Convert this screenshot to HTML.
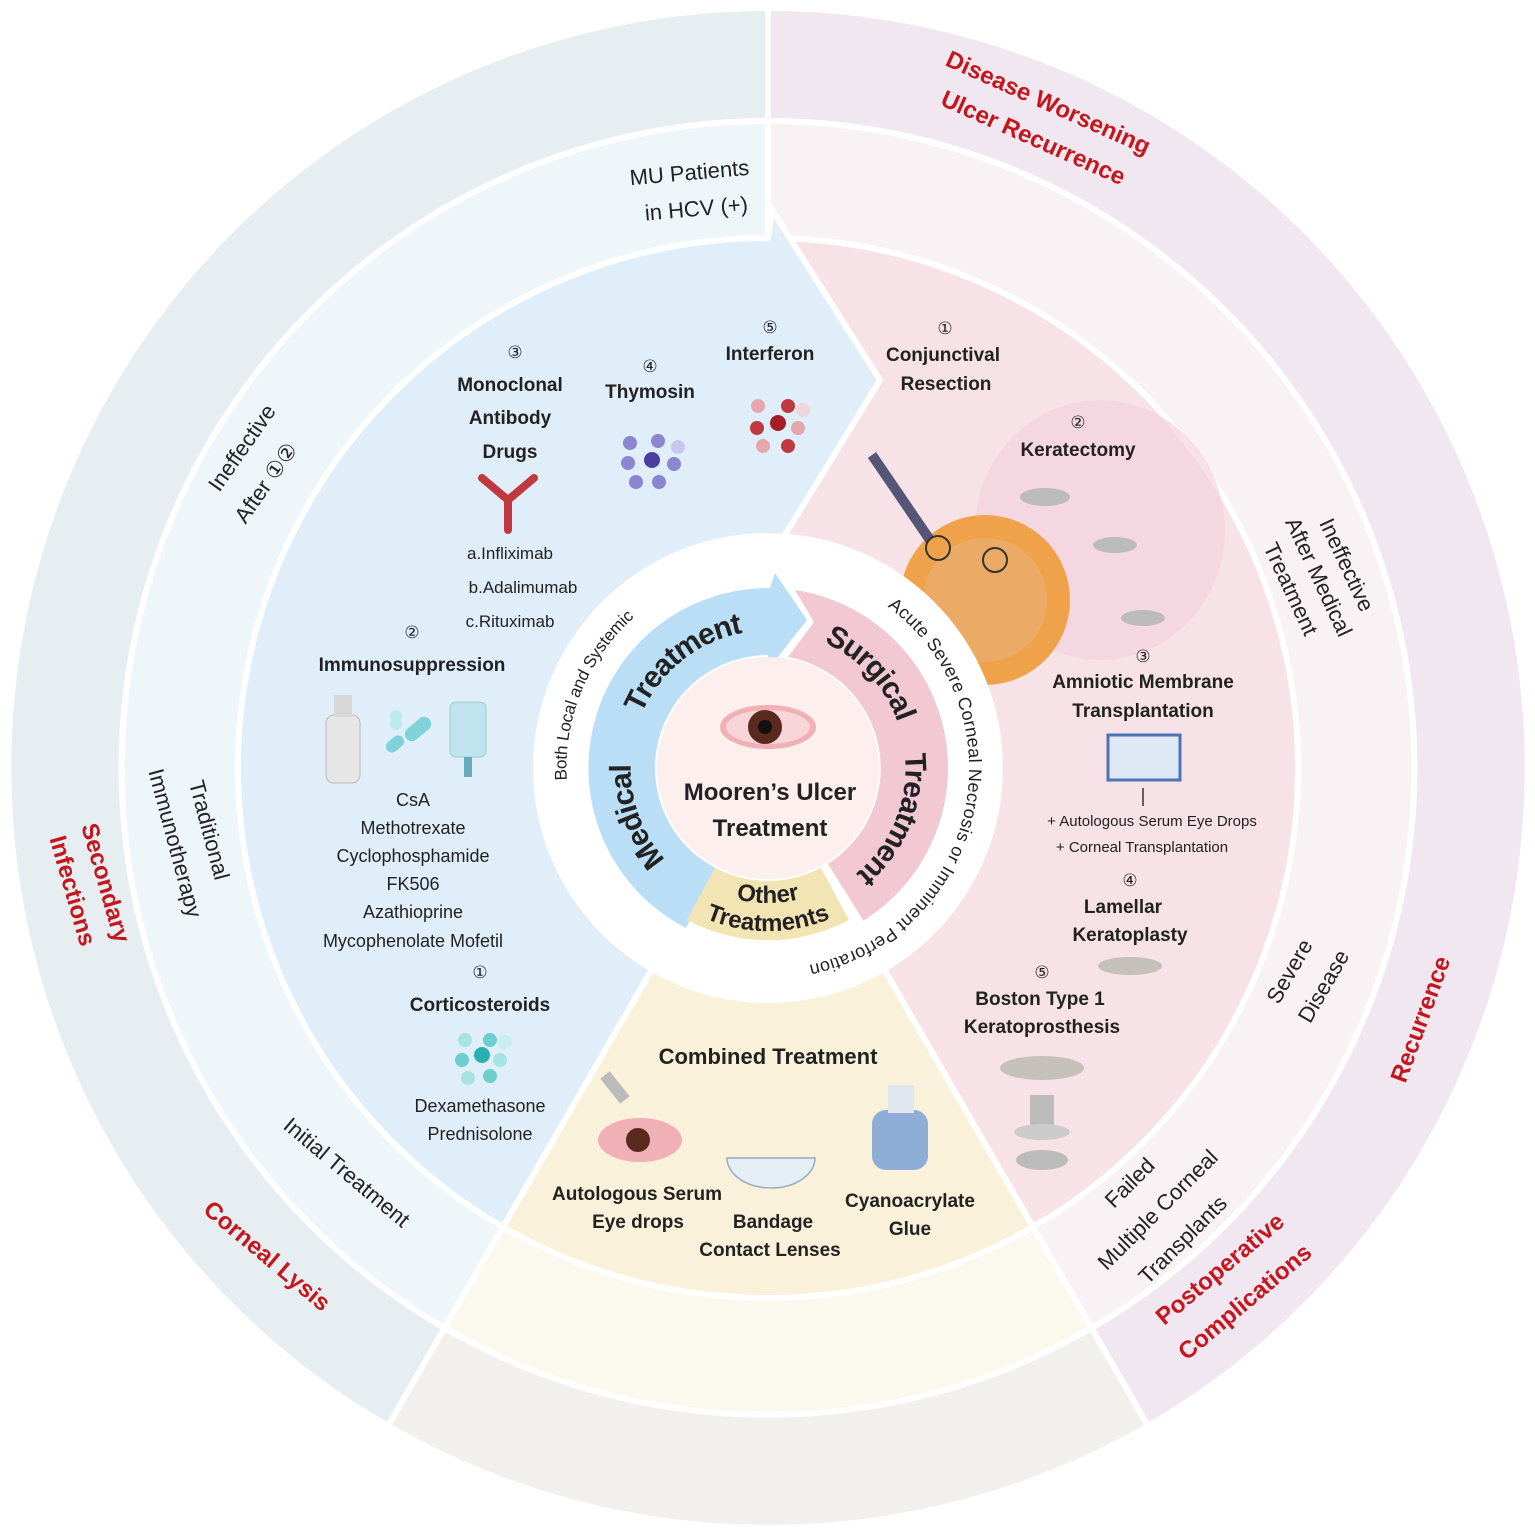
<!DOCTYPE html>
<html><head><meta charset="utf-8"><style>
html,body{margin:0;padding:0;background:#fff}
svg{display:block}
text{font-family:"Liberation Sans",Arial,sans-serif;fill:#222}
.b{font-weight:bold}
.r{fill:#c4161c;font-weight:bold}
</style></head><body>
<svg width="1535" height="1536" viewBox="0 0 1535 1536" xmlns="http://www.w3.org/2000/svg">
<g stroke="#fff" stroke-width="6">
<path d="M768,768 L388,1426 A760 760 0 0 1 768,8 Z" fill="#e6eef1"/>
<path d="M768,768 L768,8 A760 760 0 0 1 1148,1426 Z" fill="#f1e7f1"/>
<path d="M768,768 L1148,1426 A760 760 0 0 1 388,1426 Z" fill="#f1f0ec"/>
<path d="M768,768 L444.5,1328 A647 647 0 0 1 768,121 Z" fill="#eff6fa"/>
<path d="M768,768 L768,121 A647 647 0 0 1 1091.5,1328 Z" fill="#f8f2f5"/>
<path d="M768,768 L1091.5,1328 A647 647 0 0 1 444.5,1328 Z" fill="#fbf8ee"/>
</g>
<g stroke="#fff" stroke-width="6">
<path d="M768,768 L768,238 A530 530 0 0 1 1033,1227 Z" fill="#f6e2e7"/>
<path d="M768,768 L1033,1227 A530 530 0 0 1 503,1227 Z" fill="#f9f1d9"/>
<path d="M768,768 L503,1227 A530 530 0 0 1 768,238 L772,210 L880,380 L785,535 Z" fill="#e0eef9"/>
</g>
<ellipse cx="1100" cy="530" rx="125" ry="130" fill="#f5d3e0" opacity="0.7"/>
<circle cx="985" cy="600" r="85" fill="#f0a24b"/>
<circle cx="985" cy="600" r="62" fill="#e8b07a" opacity="0.6"/>
<path d="M872,455 L930,540" stroke="#557" stroke-width="10"/>
<circle cx="938" cy="548" r="12" fill="none" stroke="#333" stroke-width="2"/>
<circle cx="995" cy="560" r="12" fill="none" stroke="#333" stroke-width="2"/>
<circle cx="768" cy="768" r="235" fill="#fff"/>
<path d="M716.7,868.7 L686,928 A180 180 0 0 1 770,588 L775,573 L807,620 L770,667 L768,655 A113 113 0 0 0 716.7,868.7 Z" fill="#b9def6"/>
<path d="M795,590 A180 180 0 0 1 863.4,920.6 L827.9,863.8 A113 113 0 0 0 788,657 L814,622 Z" fill="#f2c8d3"/>
<path d="M849,920 A172 172 0 0 1 687,920 L715,867.8 A113 113 0 0 0 821,867.8 Z" fill="#f3e4b4"/>
<circle cx="768" cy="768" r="111" fill="#fcefee"/>
<defs>
<path id="pm" d="M683.7,888.4 A147 147 0 0 1 755.2,621.6"/>
<path id="ps" d="M806,626 A147 147 0 0 1 841.5,895.3"/>
<path id="po1" d="M651.1,835.5 A135 135 0 0 0 884.9,835.5"/>
<path id="po2" d="M626.8,849.5 A163 163 0 0 0 909.2,849.5"/>
<path id="pb" d="M609.4,901.1 A207 207 0 0 1 750,561.8"/>
<path id="pa" d="M886.7,598.5 A207 207 0 0 1 732,972"/>
</defs>
<text class="b" font-size="30"><textPath href="#pm" startOffset="25%" text-anchor="middle" dominant-baseline="central">Medical</textPath></text>
<text class="b" font-size="30"><textPath href="#pm" startOffset="76%" text-anchor="middle" dominant-baseline="central">Treatment</textPath></text>
<text class="b" font-size="30"><textPath href="#ps" startOffset="24%" text-anchor="middle" dominant-baseline="central">Surgical</textPath></text>
<text class="b" font-size="30"><textPath href="#ps" startOffset="72%" text-anchor="middle" dominant-baseline="central">Treatment</textPath></text>
<text class="b" font-size="24"><textPath href="#po1" startOffset="50%" text-anchor="middle">Other</textPath></text>
<text class="b" font-size="24"><textPath href="#po2" startOffset="50%" text-anchor="middle">Treatments</textPath></text>
<text font-size="17"><textPath href="#pb" startOffset="50%" text-anchor="middle" dominant-baseline="central">Both Local and Systemic</textPath></text>
<text font-size="18" letter-spacing="0.6"><textPath href="#pa" startOffset="1%" dominant-baseline="central">Acute Severe Corneal Necrosis or Imminent Perforation</textPath></text>
<ellipse cx="768" cy="727" rx="48" ry="22" fill="#f0b0b6"/>
<ellipse cx="768" cy="727" rx="42" ry="17" fill="#f7d5d8"/>
<circle cx="765" cy="727" r="17" fill="#5a2a1e"/>
<circle cx="765" cy="727" r="7" fill="#111"/>
<text class="b" font-size="24" x="770" y="800" text-anchor="middle">Mooren’s Ulcer</text>
<text class="b" font-size="24" x="770" y="836" text-anchor="middle">Treatment</text>
<text class="r" font-size="24" transform="translate(1045,110) rotate(24)" text-anchor="middle">Disease Worsening</text>
<text class="r" font-size="24" transform="translate(1030,145) rotate(24)" text-anchor="middle">Ulcer Recurrence</text>
<text class="r" font-size="24" transform="translate(1428,1022) rotate(-70)" text-anchor="middle">Recurrence</text>
<text class="r" font-size="24" transform="translate(1225,1275) rotate(-40)" text-anchor="middle">Postoperative</text>
<text class="r" font-size="24" transform="translate(1250,1308) rotate(-40)" text-anchor="middle">Complications</text>
<text class="r" font-size="24" transform="translate(262,1262) rotate(40)" text-anchor="middle">Corneal Lysis</text>
<text class="r" font-size="24" transform="translate(98,885) rotate(74)" text-anchor="middle">Secondary</text>
<text class="r" font-size="24" transform="translate(65,893) rotate(74)" text-anchor="middle">Infections</text>
<text font-size="22" transform="translate(690,180) rotate(-5)" text-anchor="middle">MU Patients</text>
<text font-size="22" transform="translate(697,216) rotate(-5)" text-anchor="middle">in HCV (+)</text>
<text font-size="22" transform="translate(248,452) rotate(-55)" text-anchor="middle">Ineffective</text>
<text font-size="22" transform="translate(272,487) rotate(-55)" text-anchor="middle">After ①②</text>
<text font-size="22" transform="translate(202,832) rotate(75)" text-anchor="middle">Traditional</text>
<text font-size="22" transform="translate(168,845) rotate(75)" text-anchor="middle">Immunotherapy</text>
<text font-size="22" transform="translate(342,1178) rotate(40)" text-anchor="middle">Initial Treatment</text>
<text font-size="22" transform="translate(1340,568) rotate(65)" text-anchor="middle">Ineffective</text>
<text font-size="22" transform="translate(1312,580) rotate(65)" text-anchor="middle">After Medical</text>
<text font-size="22" transform="translate(1284,592) rotate(65)" text-anchor="middle">Treatment</text>
<text font-size="22" transform="translate(1296,975) rotate(-60)" text-anchor="middle">Severe</text>
<text font-size="22" transform="translate(1330,990) rotate(-60)" text-anchor="middle">Disease</text>
<text font-size="22" transform="translate(1135,1188) rotate(-45)" text-anchor="middle">Failed</text>
<text font-size="22" transform="translate(1163,1215) rotate(-45)" text-anchor="middle">Multiple Corneal</text>
<text font-size="22" transform="translate(1188,1245) rotate(-45)" text-anchor="middle">Transplants</text>
<g text-anchor="middle">
<text font-size="17" x="515" y="358">③</text>
<text class="b" font-size="19" x="510" y="391">Monoclonal</text>
<text class="b" font-size="19" x="510" y="424">Antibody</text>
<text class="b" font-size="19" x="510" y="458">Drugs</text>
<text font-size="17" x="510" y="559">a.Infliximab</text>
<text font-size="17" x="523" y="593">b.Adalimumab</text>
<text font-size="17" x="510" y="627">c.Rituximab</text>
<text font-size="17" x="650" y="372">④</text>
<text class="b" font-size="19" x="650" y="398">Thymosin</text>
<text font-size="17" x="770" y="333">⑤</text>
<text class="b" font-size="19" x="770" y="360">Interferon</text>
<text font-size="17" x="412" y="638">②</text>
<text class="b" font-size="19" x="412" y="671">Immunosuppression</text>
<text font-size="18" x="413" y="806">CsA</text>
<text font-size="18" x="413" y="834">Methotrexate</text>
<text font-size="18" x="413" y="862">Cyclophosphamide</text>
<text font-size="18" x="413" y="890">FK506</text>
<text font-size="18" x="413" y="918">Azathioprine</text>
<text font-size="18" x="413" y="947">Mycophenolate Mofetil</text>
<text font-size="17" x="480" y="978">①</text>
<text class="b" font-size="19" x="480" y="1011">Corticosteroids</text>
<text font-size="18" x="480" y="1112">Dexamethasone</text>
<text font-size="18" x="480" y="1140">Prednisolone</text>
<text font-size="17" x="945" y="334">①</text>
<text class="b" font-size="19" x="943" y="361">Conjunctival</text>
<text class="b" font-size="19" x="946" y="390">Resection</text>
<text font-size="17" x="1078" y="428">②</text>
<text class="b" font-size="19" x="1078" y="456">Keratectomy</text>
<text font-size="17" x="1143" y="662">③</text>
<text class="b" font-size="19" x="1143" y="688">Amniotic Membrane</text>
<text class="b" font-size="19" x="1143" y="717">Transplantation</text>
<text font-size="15" x="1152" y="826">+ Autologous Serum Eye Drops</text>
<text font-size="15" x="1142" y="852">+ Corneal Transplantation</text>
<text font-size="17" x="1130" y="886">④</text>
<text class="b" font-size="19" x="1123" y="913">Lamellar</text>
<text class="b" font-size="19" x="1130" y="941">Keratoplasty</text>
<text font-size="17" x="1042" y="978">⑤</text>
<text class="b" font-size="19" x="1040" y="1005">Boston Type 1</text>
<text class="b" font-size="19" x="1042" y="1033">Keratoprosthesis</text>
<text class="b" font-size="22" x="768" y="1064">Combined Treatment</text>
<text class="b" font-size="19" x="637" y="1200">Autologous Serum</text>
<text class="b" font-size="19" x="638" y="1228">Eye drops</text>
<text class="b" font-size="19" x="773" y="1228">Bandage</text>
<text class="b" font-size="19" x="770" y="1256">Contact Lenses</text>
<text class="b" font-size="19" x="910" y="1207">Cyanoacrylate</text>
<text class="b" font-size="19" x="910" y="1235">Glue</text>
</g>
<g stroke="#c0393f" stroke-width="8" fill="none" stroke-linecap="round">
<path d="M508,530 L508,500 L482,478 M508,500 L534,478"/>
</g>
<g fill="#8a86d0">
<circle cx="630" cy="443" r="7"/><circle cx="658" cy="441" r="7"/><circle cx="678" cy="447" r="7" fill="#c9c6ee"/>
<circle cx="628" cy="463" r="7"/><circle cx="652" cy="460" r="8" fill="#4a3f9e"/><circle cx="674" cy="464" r="7"/>
<circle cx="636" cy="482" r="7"/><circle cx="659" cy="482" r="7"/>
</g>
<g fill="#c0393f">
<circle cx="758" cy="406" r="7" fill="#e3a7ad"/><circle cx="788" cy="406" r="7"/><circle cx="803" cy="410" r="7" fill="#eed6da"/>
<circle cx="757" cy="428" r="7"/><circle cx="778" cy="423" r="8" fill="#a51d26"/><circle cx="798" cy="428" r="7" fill="#e3a7ad"/>
<circle cx="763" cy="446" r="7" fill="#e3a7ad"/><circle cx="788" cy="446" r="7"/>
</g>
<g fill="#6ccfcf">
<circle cx="465" cy="1040" r="7" fill="#a6e3e3"/><circle cx="490" cy="1040" r="7"/><circle cx="505" cy="1042" r="7" fill="#c8eeee"/>
<circle cx="462" cy="1060" r="7"/><circle cx="482" cy="1055" r="8" fill="#2bb0b0"/><circle cx="500" cy="1060" r="7" fill="#a6e3e3"/>
<circle cx="468" cy="1078" r="7" fill="#a6e3e3"/><circle cx="490" cy="1076" r="7"/>
</g>
<rect x="326" y="715" width="34" height="68" rx="8" fill="#e6e6e6" stroke="#bbb"/>
<rect x="334" y="695" width="18" height="22" fill="#d8d8d8"/>
<rect x="385" y="738" width="20" height="12" rx="6" fill="#7fd3d8" transform="rotate(-40 395 744)"/>
<rect x="403" y="722" width="30" height="14" rx="7" fill="#7fd3d8" transform="rotate(-40 418 729)"/>
<rect x="390" y="710" width="12" height="20" rx="6" fill="#bdeaee"/>
<rect x="450" y="702" width="36" height="55" rx="6" fill="#bfe3ef" stroke="#9cc"/>
<rect x="464" y="757" width="8" height="20" fill="#6ab"/>
<ellipse cx="1045" cy="497" rx="25" ry="9" fill="#bbb"/>
<ellipse cx="1115" cy="545" rx="22" ry="8" fill="#bbb"/>
<ellipse cx="1143" cy="618" rx="22" ry="8" fill="#bbb"/>
<rect x="1108" y="735" width="72" height="45" fill="#dfe8f5" stroke="#4a74b5" stroke-width="3"/>
<path d="M1143,788 L1143,806" stroke="#333" stroke-width="1.5"/>
<ellipse cx="1130" cy="966" rx="32" ry="9" fill="#c6c0bb"/>
<ellipse cx="1042" cy="1068" rx="42" ry="12" fill="#c6c0bb"/>
<rect x="1030" y="1095" width="24" height="30" fill="#bbb"/>
<ellipse cx="1042" cy="1132" rx="28" ry="8" fill="#ccc"/>
<ellipse cx="1042" cy="1160" rx="26" ry="10" fill="#bbb"/>
<ellipse cx="640" cy="1140" rx="42" ry="22" fill="#f1b0b6"/>
<circle cx="638" cy="1140" r="12" fill="#5a2a1e"/>
<path d="M605,1075 L625,1100" stroke="#bbb" stroke-width="12"/>
<path d="M727,1158 A44 30 0 0 0 815,1158 Z" fill="#e4eef4" stroke="#9ab" stroke-width="1.5"/>
<rect x="872" y="1110" width="56" height="60" rx="14" fill="#8eaed8"/>
<rect x="888" y="1085" width="26" height="28" fill="#dfe6ee"/>
</svg>
</body></html>
